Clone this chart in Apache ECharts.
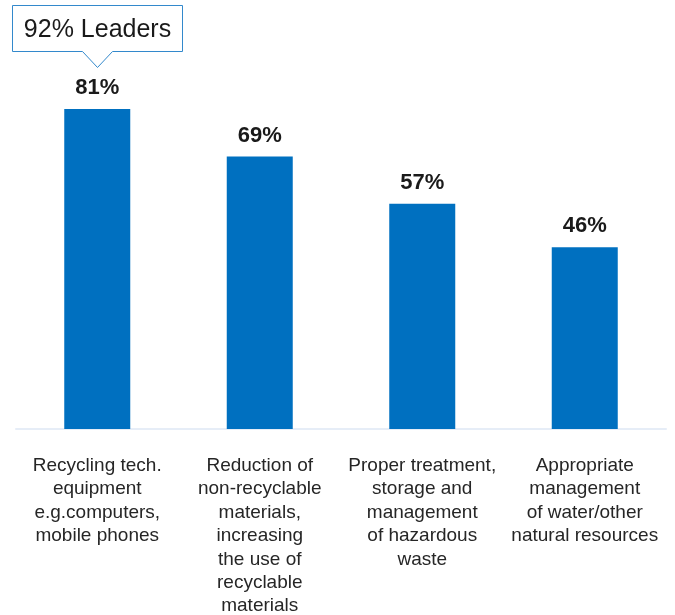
<!DOCTYPE html>
<html>
<head>
<meta charset="utf-8">
<script src="https://cdn.jsdelivr.net/npm/echarts@6/dist/echarts.min.js"></script>
<style>
  html, body { margin: 0; padding: 0; background: #ffffff; }
  #chart { width: 675px; height: 615px; }
</style>
</head>
<body>
<div id="chart"></div>
<script>
// Survey shares per action (percent)
const categories = [
  'Recycling tech.\nequipment\ne.g.computers,\nmobile phones',
  'Reduction of\nnon-recyclable\nmaterials,\nincreasing\nthe use of\nrecyclable\nmaterials',
  'Proper treatment,\nstorage and\nmanagement\nof hazardous\nwaste',
  'Appropriate\nmanagement\nof water/other\nnatural resources'
];
const values = [81, 69, 57, 46];
const calloutText = '92% Leaders';
const calloutIndex = 0;

const FONT = '"Liberation Sans", Arial, Helvetica, sans-serif';
const chart = echarts.init(document.getElementById('chart'), null, { renderer: 'canvas' });

chart.setOption({
  animation: false,
  backgroundColor: '#ffffff',
  grid: { left: 16, right: 9, top: 34, bottom: 186, containLabel: false, outerBoundsMode: 'none' },
  xAxis: {
    type: 'category',
    data: categories,
    axisTick: { show: false },
    axisLine: { show: true, lineStyle: { color: '#e6edf7', width: 2 } },
    axisLabel: {
      interval: 0,
      margin: 25,
      color: '#262626',
      fontFamily: FONT,
      fontSize: 19,
      lineHeight: 23.4,
      align: 'center'
    }
  },
  yAxis: {
    type: 'value',
    min: 0,
    max: 100,
    show: false,
    splitLine: { show: false }
  },
  series: [{
    type: 'bar',
    data: values,
    barWidth: 66,
    itemStyle: { color: '#0070c0' },
    label: {
      show: true,
      position: 'top',
      distance: 10,
      formatter: p => p.value + '%',
      color: '#1a1a1a',
      fontFamily: FONT,
      fontWeight: 'bold',
      fontSize: 22
    }
  }]
});

// Callout box with a pointer above the first bar's value label
const anchor = chart.convertToPixel({ seriesIndex: 0 }, [calloutIndex, values[calloutIndex]]);
const cx = Math.round(anchor[0]) + 0.5;
const tipY = Math.round(anchor[1] - 42) + 0.5;
const boxBottom = tipY - 16;
const boxTop = tipY - 62;
const halfW = 85;
const halfP = 15;

chart.setOption({
  graphic: [
    {
      type: 'polygon',
      z: 100,
      shape: {
        points: [
          [cx - halfW, boxTop], [cx + halfW, boxTop], [cx + halfW, boxBottom],
          [cx + halfP, boxBottom], [cx, tipY], [cx - halfP, boxBottom],
          [cx - halfW, boxBottom]
        ]
      },
      style: { fill: '#ffffff', stroke: '#3389cc', lineWidth: 1 }
    },
    {
      type: 'text',
      z: 101,
      x: cx,
      y: (boxTop + boxBottom) / 2 + 2,
      style: {
        text: calloutText,
        align: 'center',
        verticalAlign: 'middle',
        font: '25px ' + FONT,
        fill: '#1a1a1a'
      }
    }
  ]
});
</script>
</body>
</html>
